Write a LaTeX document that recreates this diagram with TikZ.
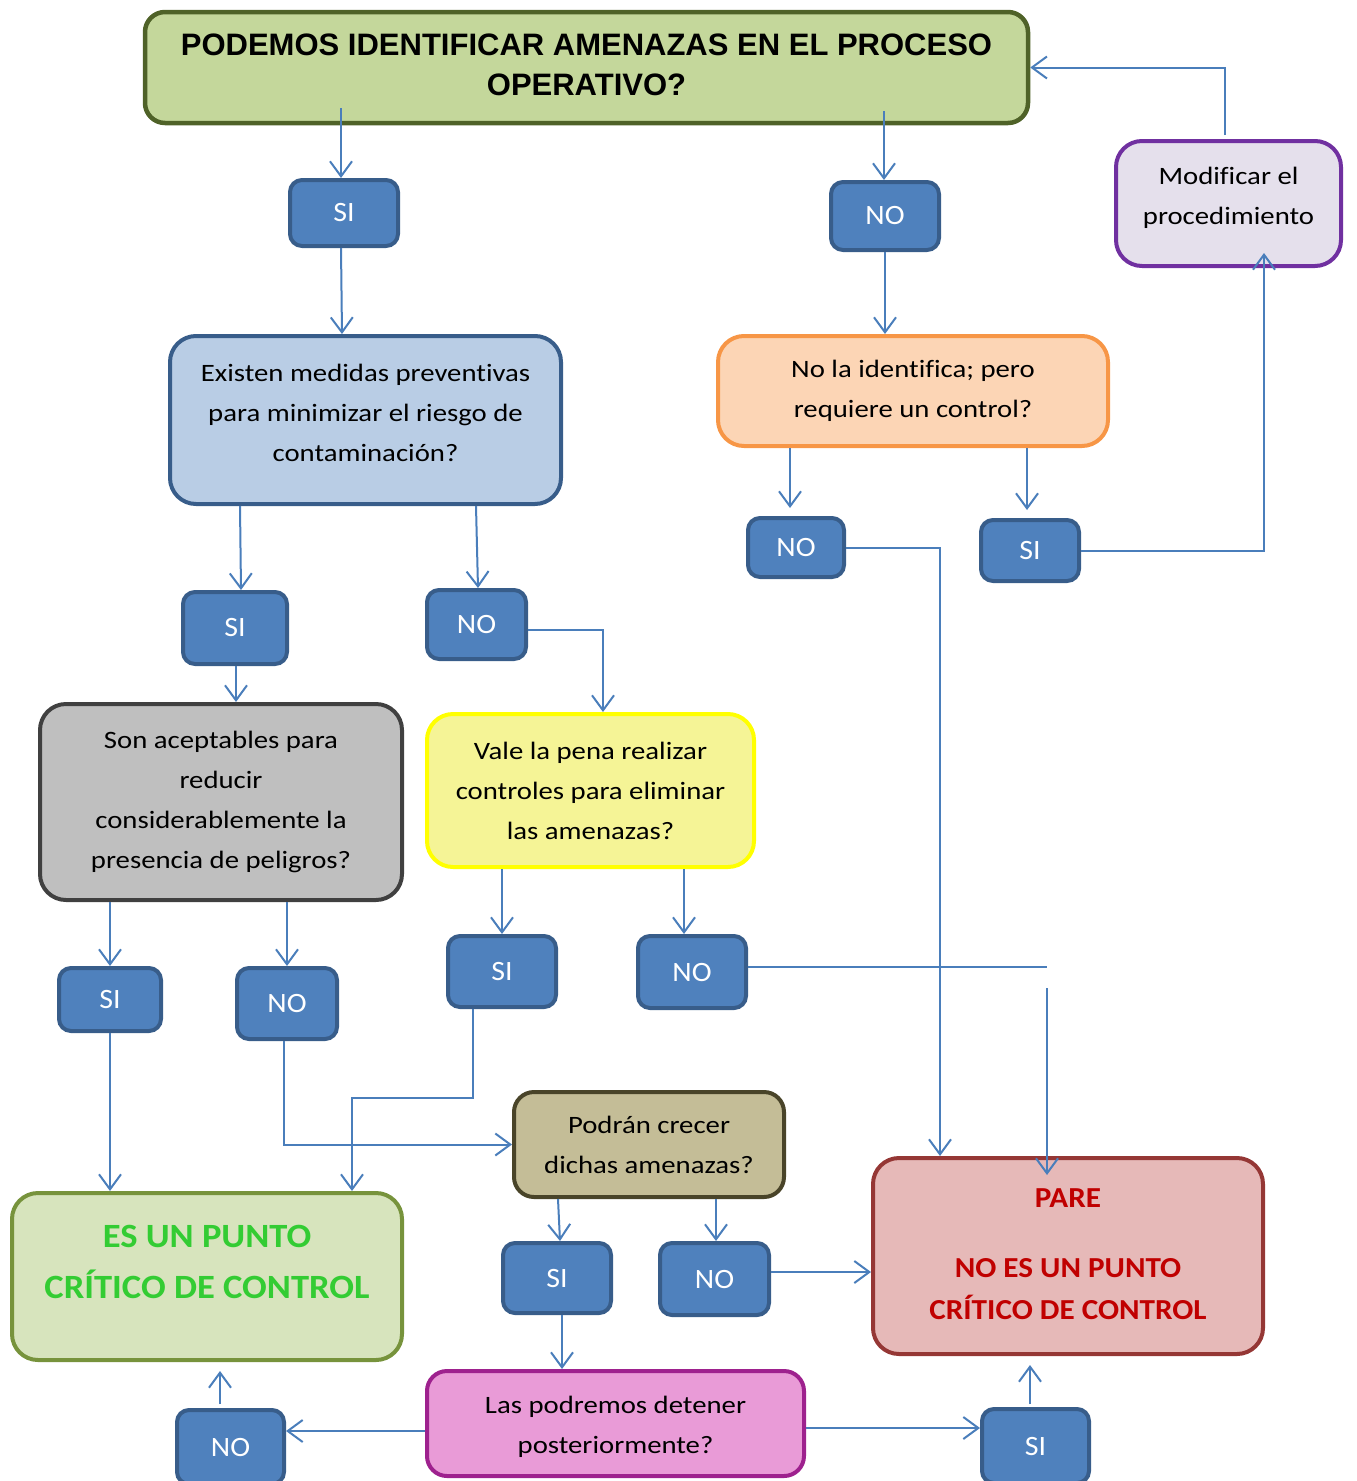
\documentclass[tikz,border=0pt]{standalone}
\usepackage{fontspec}
\setmainfont{Carlito}
\newfontfamily\ttlfont{Liberation Sans}
\newfontfamily\bodyf[FakeStretch=1.15,Ligatures=NoCommon]{Carlito}
\newfontfamily\ynf[FakeStretch=1.07]{Carlito}
\newfontfamily\bigf[FakeStretch=1.075]{Carlito}
\usetikzlibrary{arrows.meta}
\definecolor{conn}{HTML}{4A7EBB}
\definecolor{ynFill}{HTML}{4F81BD}
\definecolor{ynLine}{HTML}{385D8A}
\definecolor{ttlLine}{HTML}{4F6228}
\definecolor{ttlFill}{RGB}{196,215,155}
\definecolor{modLine}{RGB}{112,48,160}
\definecolor{modFill}{RGB}{229,224,236}
\definecolor{exFill}{RGB}{185,205,229}
\definecolor{orLine}{RGB}{247,150,70}
\definecolor{orFill}{RGB}{252,213,181}
\definecolor{grLine}{RGB}{64,64,64}
\definecolor{grFill}{RGB}{191,191,191}
\definecolor{yeLine}{RGB}{255,255,0}
\definecolor{yeFill}{RGB}{245,244,150}
\definecolor{poLine}{RGB}{73,68,41}
\definecolor{poFill}{RGB}{196,189,151}
\definecolor{esLine}{RGB}{119,147,60}
\definecolor{esFill}{RGB}{215,228,189}
\definecolor{esText}{RGB}{51,204,51}
\definecolor{paLine}{RGB}{149,55,53}
\definecolor{paFill}{RGB}{230,185,184}
\definecolor{paText}{RGB}{192,0,0}
\definecolor{laLine}{RGB}{158,33,142}
\definecolor{laFill}{RGB}{233,155,215}
\newcommand{\bxfont}{\bodyf\fontsize{25}{40}\selectfont}
\newcommand{\ynfnt}{\ynf\fontsize{28}{30}\selectfont}
\newcommand{\ttlfnt}{\ttlfont\bfseries\fontsize{31}{40}\selectfont}
\newcommand{\esfnt}{\bigf\bfseries\fontsize{34}{51}\selectfont}
\newcommand{\pafnt}{\bigf\bfseries\fontsize{29}{42}\selectfont}
\tikzset{
  box/.style={rounded corners=26pt, line width=4pt, align=center, inner sep=0pt, font=\bxfont},
  txt/.style={align=center, inner sep=0pt, font=\bxfont},
  yn/.style={draw=ynLine, fill=ynFill, rounded corners=12pt, line width=4pt, text=white, font=\ynfnt, inner sep=0pt},
  arr/.style={draw=conn, line width=2pt, -{Straight Barb[length=15pt,width=22pt]}},
  plainline/.style={draw=conn, line width=2pt},
}
\begin{document}
\begin{tikzpicture}[x=1pt,y=-1pt]
\useasboundingbox (0,0) rectangle (1357,1481);
% main boxes
\node[box, rounded corners=20pt, draw=ttlLine, line width=4.5pt, fill=ttlFill, minimum width=883pt, minimum height=111pt] (title) at (586.5,67.5) {};
\node[txt, font=\ttlfnt] (titleT) at (586.5,64.5)
  {PODEMOS IDENTIFICAR AMENAZAS EN EL PROCESO\\OPERATIVO?};
\node[box, draw=modLine, fill=modFill, minimum width=225pt, minimum height=125pt] (modif) at (1228.5,203.5) {};
\node[txt] (modifT) at (1228.5,197.5) {Modificar el\\procedimiento};
\node[box, draw=ynLine, fill=exFill, minimum width=391pt, minimum height=168pt] (existen) at (365.5,420) {};
\node[txt] (existenT) at (365.5,413)
  {Existen medidas preventivas\\para minimizar el riesgo de\\contaminación?};
\node[box, draw=orLine, fill=orFill, minimum width=390pt, minimum height=110pt] (orange) at (913,391)
  {No la identifica; pero\\requiere un control?};
\node[box, draw=grLine, fill=grFill, minimum width=362pt, minimum height=196pt] (son) at (221,802)
  {Son aceptables para\\reducir\\considerablemente la\\presencia de peligros?};
\node[box, draw=yeLine, fill=yeFill, minimum width=327pt, minimum height=153pt] (vale) at (590.5,790.5)
  {Vale la pena realizar\\controles para eliminar\\las amenazas?};
\node[box, rounded corners=20pt, draw=poLine, fill=poFill, minimum width=270pt, minimum height=105pt] (podran) at (649,1144.5)
  {Podrán crecer\\dichas amenazas?};
\node[box, draw=esLine, fill=esFill, minimum width=390pt, minimum height=167pt] (es) at (207,1276.5) {};
\node[txt, text=esText, font=\esfnt] (estxt) at (207,1261.5)
  {ES UN PUNTO\\CRÍTICO DE CONTROL};
\node[box, draw=paLine, fill=paFill, minimum width=390pt, minimum height=196pt] (pare) at (1068,1256) {};
\node[txt, text=paText, font=\pafnt] (pareT) at (1068,1254)
  {PARE\\[28pt]NO ES UN PUNTO\\CRÍTICO DE CONTROL};
\node[box, rounded corners=20pt, draw=laLine, fill=laFill, minimum width=377pt, minimum height=105pt] (las) at (615.5,1423.5) {};
\node[txt] (lasT) at (615.5,1426.5) {Las podremos detener\\posteriormente?};
% SI / NO boxes
\node[yn, minimum width=108pt, minimum height=66pt] (si1) at (344,213) {SI};
\node[yn, minimum width=108pt, minimum height=68pt] (no1) at (885,216) {NO};
\node[yn, minimum width=96pt, minimum height=59pt] (no2) at (796,547.5) {NO};
\node[yn, minimum width=98pt, minimum height=61pt] (si2) at (1030,550.5) {SI};
\node[yn, minimum width=104pt, minimum height=72pt] (si3) at (235,628) {SI};
\node[yn, minimum width=99pt, minimum height=69pt] (no3) at (476.5,624.5) {NO};
\node[yn, minimum width=102pt, minimum height=63pt] (si4) at (110,999.5) {SI};
\node[yn, minimum width=100pt, minimum height=71pt] (no4) at (287,1003.5) {NO};
\node[yn, minimum width=108pt, minimum height=71pt] (si5) at (502,971.5) {SI};
\node[yn, minimum width=108pt, minimum height=72pt] (no5) at (692,972) {NO};
\node[yn, minimum width=108pt, minimum height=70pt] (si6) at (557,1278) {SI};
\node[yn, minimum width=109pt, minimum height=72pt] (no6) at (714.5,1279) {NO};
\node[yn, minimum width=107pt, minimum height=74pt] (no7) at (230.5,1447) {NO};
\node[yn, minimum width=107pt, minimum height=74pt] (si7) at (1035.5,1446) {SI};
% free ends
\coordinate (nofin) at (1047,967);
\coordinate (pstart) at (1047,988);
% connectors
\draw[arr] ([xshift=-245.5,yshift=17]title.south) -- ([xshift=-3]si1.north);
\draw[arr] ([xshift=-3]si1.south) -- ([xshift=-23.5]existen.north);
\draw[arr] ([xshift=297.5,yshift=14]title.south) -- ([xshift=-1]no1.north);
\draw[arr] (no1.south) -- ([xshift=-28]orange.north);
\draw[arr] ([xshift=-3.5,yshift=4]modif.north) |- (title.east);
\draw[arr] (si2.east) -| ([xshift=35.5,yshift=15]modif.south);
\draw[arr, shorten >=8pt] ([xshift=-123]orange.south) -- ([xshift=-6]no2.north);
\draw[arr, shorten >=8pt] ([xshift=114]orange.south) -- ([xshift=-3]si2.north);
\draw[arr] (no2.east) -| ([xshift=-128]pare.north);
\draw[arr] ([xshift=-125.5]existen.south) -- ([xshift=6]si3.north);
\draw[arr] ([xshift=110.5]existen.south) -- ([xshift=1.5]no3.north);
\draw[arr] ([xshift=1]si3.south) -- ([xshift=15]son.north);
\draw[arr] ([yshift=-5]no3.east) -| ([xshift=12.5]vale.north);
\draw[arr] ([xshift=-111]son.south) -- (si4.north);
\draw[arr] ([xshift=66]son.south) -- (no4.north);
\draw[arr] ([xshift=-88.5]vale.south) -- (si5.north);
\draw[arr] ([xshift=93.5]vale.south) -- ([xshift=-8]no5.north);
\draw[plainline] ([yshift=5]no5.east) -- (nofin);
\draw[arr] (pstart) -- ([xshift=-21,yshift=-19]pare.north);
\draw[arr] (si4.south) -- ([xshift=-97]es.north);
\draw[arr] ([xshift=-3]no4.south) |- (podran.west);
\draw[arr] ([xshift=-29]si5.south) -- ++(0,89) -| ([xshift=145]es.north);
\draw[arr] ([xshift=-91]podran.south) -- ([xshift=3]si6.north);
\draw[arr] ([xshift=67]podran.south) -- ([xshift=1.5]no6.north);
\draw[arr] ([yshift=7]no6.east) -- ([yshift=-16]pare.west);
\draw[arr] ([xshift=5]si6.south) -- ([xshift=-53.5]las.north);
\draw[arr] ([yshift=-7.5]las.west) -- ([yshift=16]no7.east);
\draw[arr] ([xshift=-10.5,yshift=4]no7.north) -- ([xshift=13,yshift=-9]es.south);
\draw[arr] ([yshift=-4.5]las.east) -- ([yshift=18]si7.west);
\draw[arr] ([xshift=-5.5,yshift=3]si7.north) -- ([xshift=-38,yshift=-9]pare.south);
\end{tikzpicture}
\end{document}
